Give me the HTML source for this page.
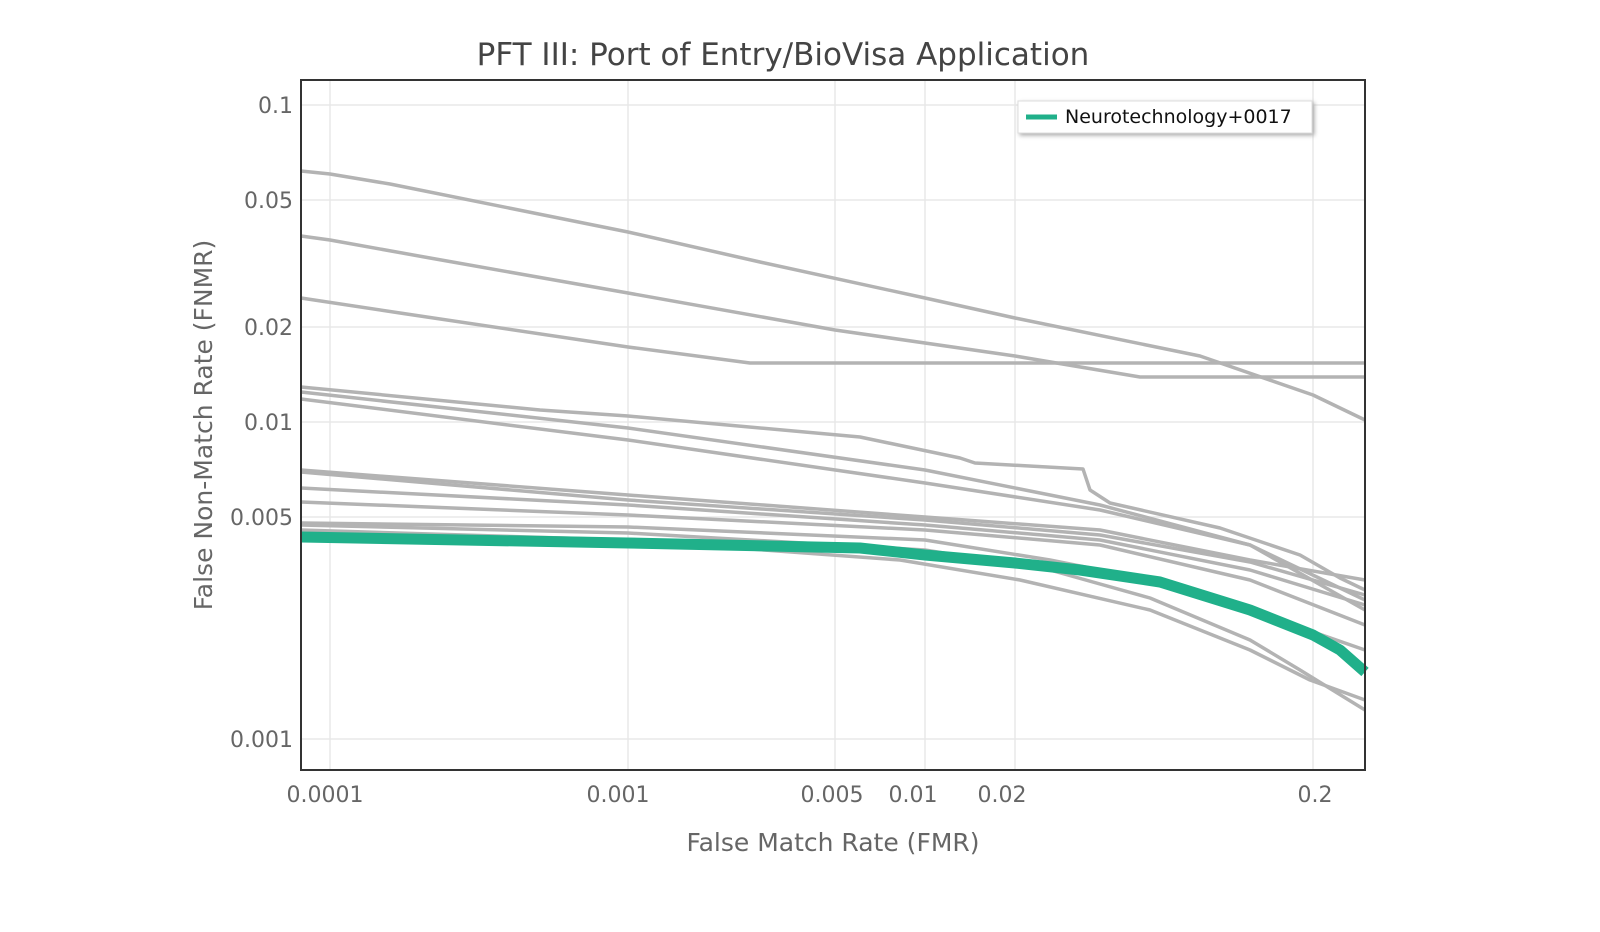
<!DOCTYPE html>
<html><head><meta charset="utf-8"><style>body{margin:0;background:#fff}svg{display:block}text{font-family:"DejaVu Sans","Liberation Sans",sans-serif}</style></head>
<body>
<svg width="1600" height="932" viewBox="0 0 1600 932">
<rect width="1600" height="932" fill="#fff"/>
<g stroke="#e8e8e8" stroke-width="1.5">
<line x1="330" y1="80" x2="330" y2="770"/><line x1="628" y1="80" x2="628" y2="770"/><line x1="835" y1="80" x2="835" y2="770"/><line x1="925" y1="80" x2="925" y2="770"/><line x1="1015" y1="80" x2="1015" y2="770"/><line x1="1313" y1="80" x2="1313" y2="770"/>
<line x1="301" y1="105" x2="1365" y2="105"/><line x1="301" y1="200" x2="1365" y2="200"/><line x1="301" y1="327" x2="1365" y2="327"/><line x1="301" y1="422" x2="1365" y2="422"/><line x1="301" y1="517" x2="1365" y2="517"/><line x1="301" y1="739" x2="1365" y2="739"/>
</g>
<g fill="none" stroke="#b3b3b3" stroke-width="3.5" stroke-linejoin="round">
<polyline points="301,171 330,174 390,184 628,232 760,262 925,298 1015,318 1200,356 1313,395 1365,420"/>
<polyline points="301,236 330,240 430,258 628,293 835,330 1015,356 1140,377 1365,377"/>
<polyline points="301,298 400,313 628,347 750,363 1365,363"/>
<polyline points="301,387 540,410 628,416 860,437 960,458 975,463 1083,469 1090,490 1110,503 1220,528 1300,555 1340,578 1365,590"/>
<polyline points="301,392 628,428 925,470 1100,505 1250,545 1365,600"/>
<polyline points="301,399 628,440 925,483 1100,510 1250,545 1365,610"/>
<polyline points="301,470 628,495 925,517 1100,530 1250,560 1365,580"/>
<polyline points="301,472 628,500 925,520 1100,535 1250,562 1365,595"/>
<polyline points="301,488 628,505 925,525 1100,540 1250,570 1365,605"/>
<polyline points="301,502 628,515 925,530 1100,545 1250,580 1365,625"/>
<polyline points="301,523 628,527 925,540 1050,560 1150,580 1250,610 1365,650"/>
<polyline points="301,525 628,533 925,550 1050,570 1150,598 1250,640 1300,670 1365,710"/>
<polyline points="301,530 628,540 900,560 1020,580 1150,610 1250,650 1310,680 1365,700"/>
</g>
<polyline fill="none" stroke="#20b08a" stroke-width="11" stroke-linejoin="round" points="301,537 628,543 860,548 925,555 1015,563 1080,570 1160,582 1250,610 1313,635 1340,650 1365,672"/>
<rect x="301" y="80" width="1064" height="690" fill="none" stroke="#333" stroke-width="2"/>
<rect x="1018" y="101" width="294" height="32" fill="#fff" stroke="#ddd" style="filter:drop-shadow(2px 2px 2px #aaa)"/>
<line x1="1026" y1="117" x2="1057" y2="117" stroke="#20b08a" stroke-width="5"/>
<text x="1065" y="123" font-size="19" fill="#111">Neurotechnology+0017</text>
<text x="783" y="65" font-size="31" fill="#444" text-anchor="middle">PFT III: Port of Entry/BioVisa Application</text>
<g font-size="22" fill="#666" text-anchor="end">
<text x="293" y="113">0.1</text><text x="293" y="208">0.05</text><text x="293" y="335">0.02</text><text x="293" y="430">0.01</text><text x="293" y="525">0.005</text><text x="293" y="747">0.001</text>
</g>
<g font-size="22" fill="#666" text-anchor="middle">
<text x="325" y="802">0.0001</text><text x="618" y="802">0.001</text><text x="832" y="802">0.005</text><text x="913" y="802">0.01</text><text x="1002" y="802">0.02</text><text x="1315" y="802">0.2</text>
</g>
<text x="833" y="851" font-size="25" fill="#666" text-anchor="middle">False Match Rate (FMR)</text>
<text transform="translate(212,425) rotate(-90)" font-size="25" fill="#666" text-anchor="middle">False Non-Match Rate (FNMR)</text>
</svg>
</body></html>
